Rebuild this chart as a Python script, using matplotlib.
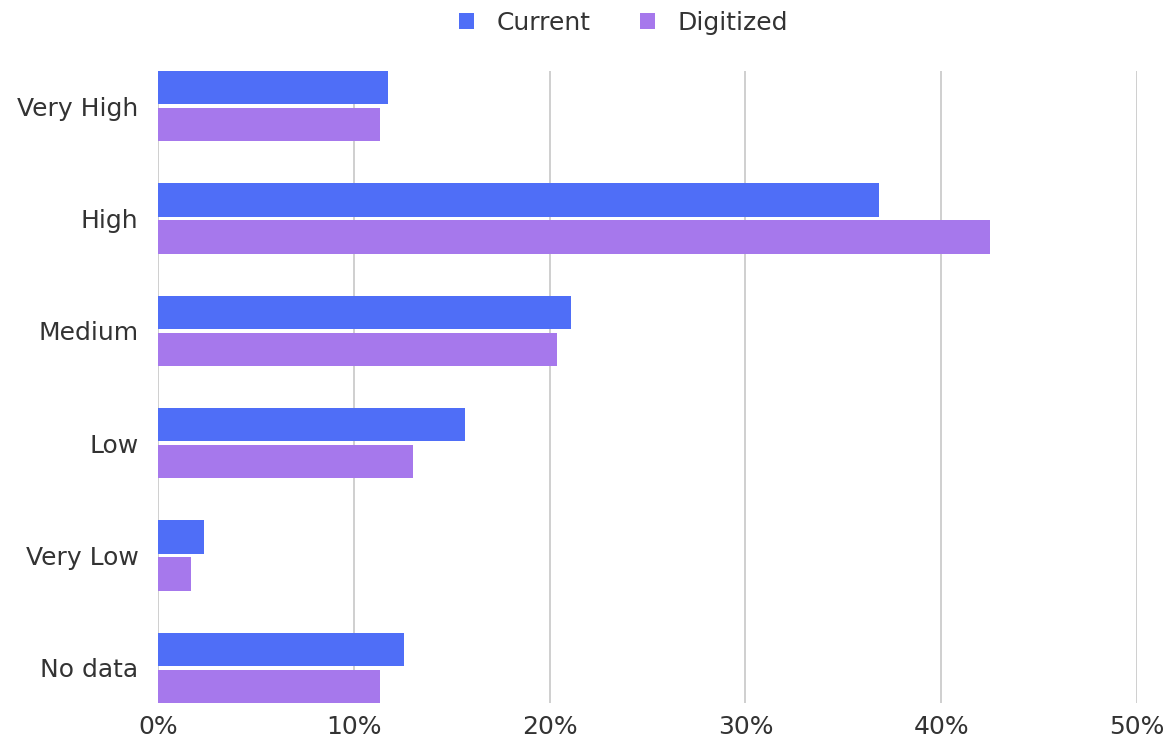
import matplotlib
matplotlib.use("Agg")
import matplotlib.pyplot as plt
import numpy as np

categories = ["Very High", "High", "Medium", "Low", "Very Low", "No data"]
current = [11.75, 36.8, 21.1, 15.7, 2.35, 12.55]
digitized = [11.35, 42.5, 20.4, 13.0, 1.7, 11.35]
xticks = [0, 10, 20, 30, 40, 50]
xtick_labels = ["0%", "10%", "20%", "30%", "40%", "50%"]

plt.rcParams['font.family'] = ['DejaVu Sans']
text_color = "#333333"

fig = plt.figure(figsize=(11.72, 7.47), dpi=100)
ax = fig.add_axes([158/1172, 1 - 703/747, (1137-158)/1172, (703-71)/747])

y = np.arange(len(categories))
h = 0.295
off = 0.165
ax.barh(y - off, current, height=h, color="#4F6EF7", label="Current", zorder=3)
ax.barh(y + off, digitized, height=h, color="#A678EC", label="Digitized", zorder=3)

ax.set_xlim(0, 50)
ax.set_ylim(5.3125, -0.3125)
ax.set_xticks(xticks)
ax.set_xticklabels(xtick_labels)
ax.set_yticks(y)
ax.set_yticklabels(categories)
ax.tick_params(axis='both', length=0, labelsize=18, colors=text_color)
ax.tick_params(axis='x', pad=9)
ax.tick_params(axis='y', pad=14)
ax.grid(axis='x', color="#cccccc", linewidth=1.3, zorder=0)
for s in ax.spines.values():
    s.set_visible(False)

leg = fig.legend(loc='center', bbox_to_anchor=(0.532, 1 - 23/747), ncol=2, frameon=False,
                 fontsize=18, handlelength=0.6, handleheight=0.6, columnspacing=2.0,
                 handletextpad=0.9, labelcolor=text_color)

fig.savefig("out.png", dpi=100, facecolor="white")
